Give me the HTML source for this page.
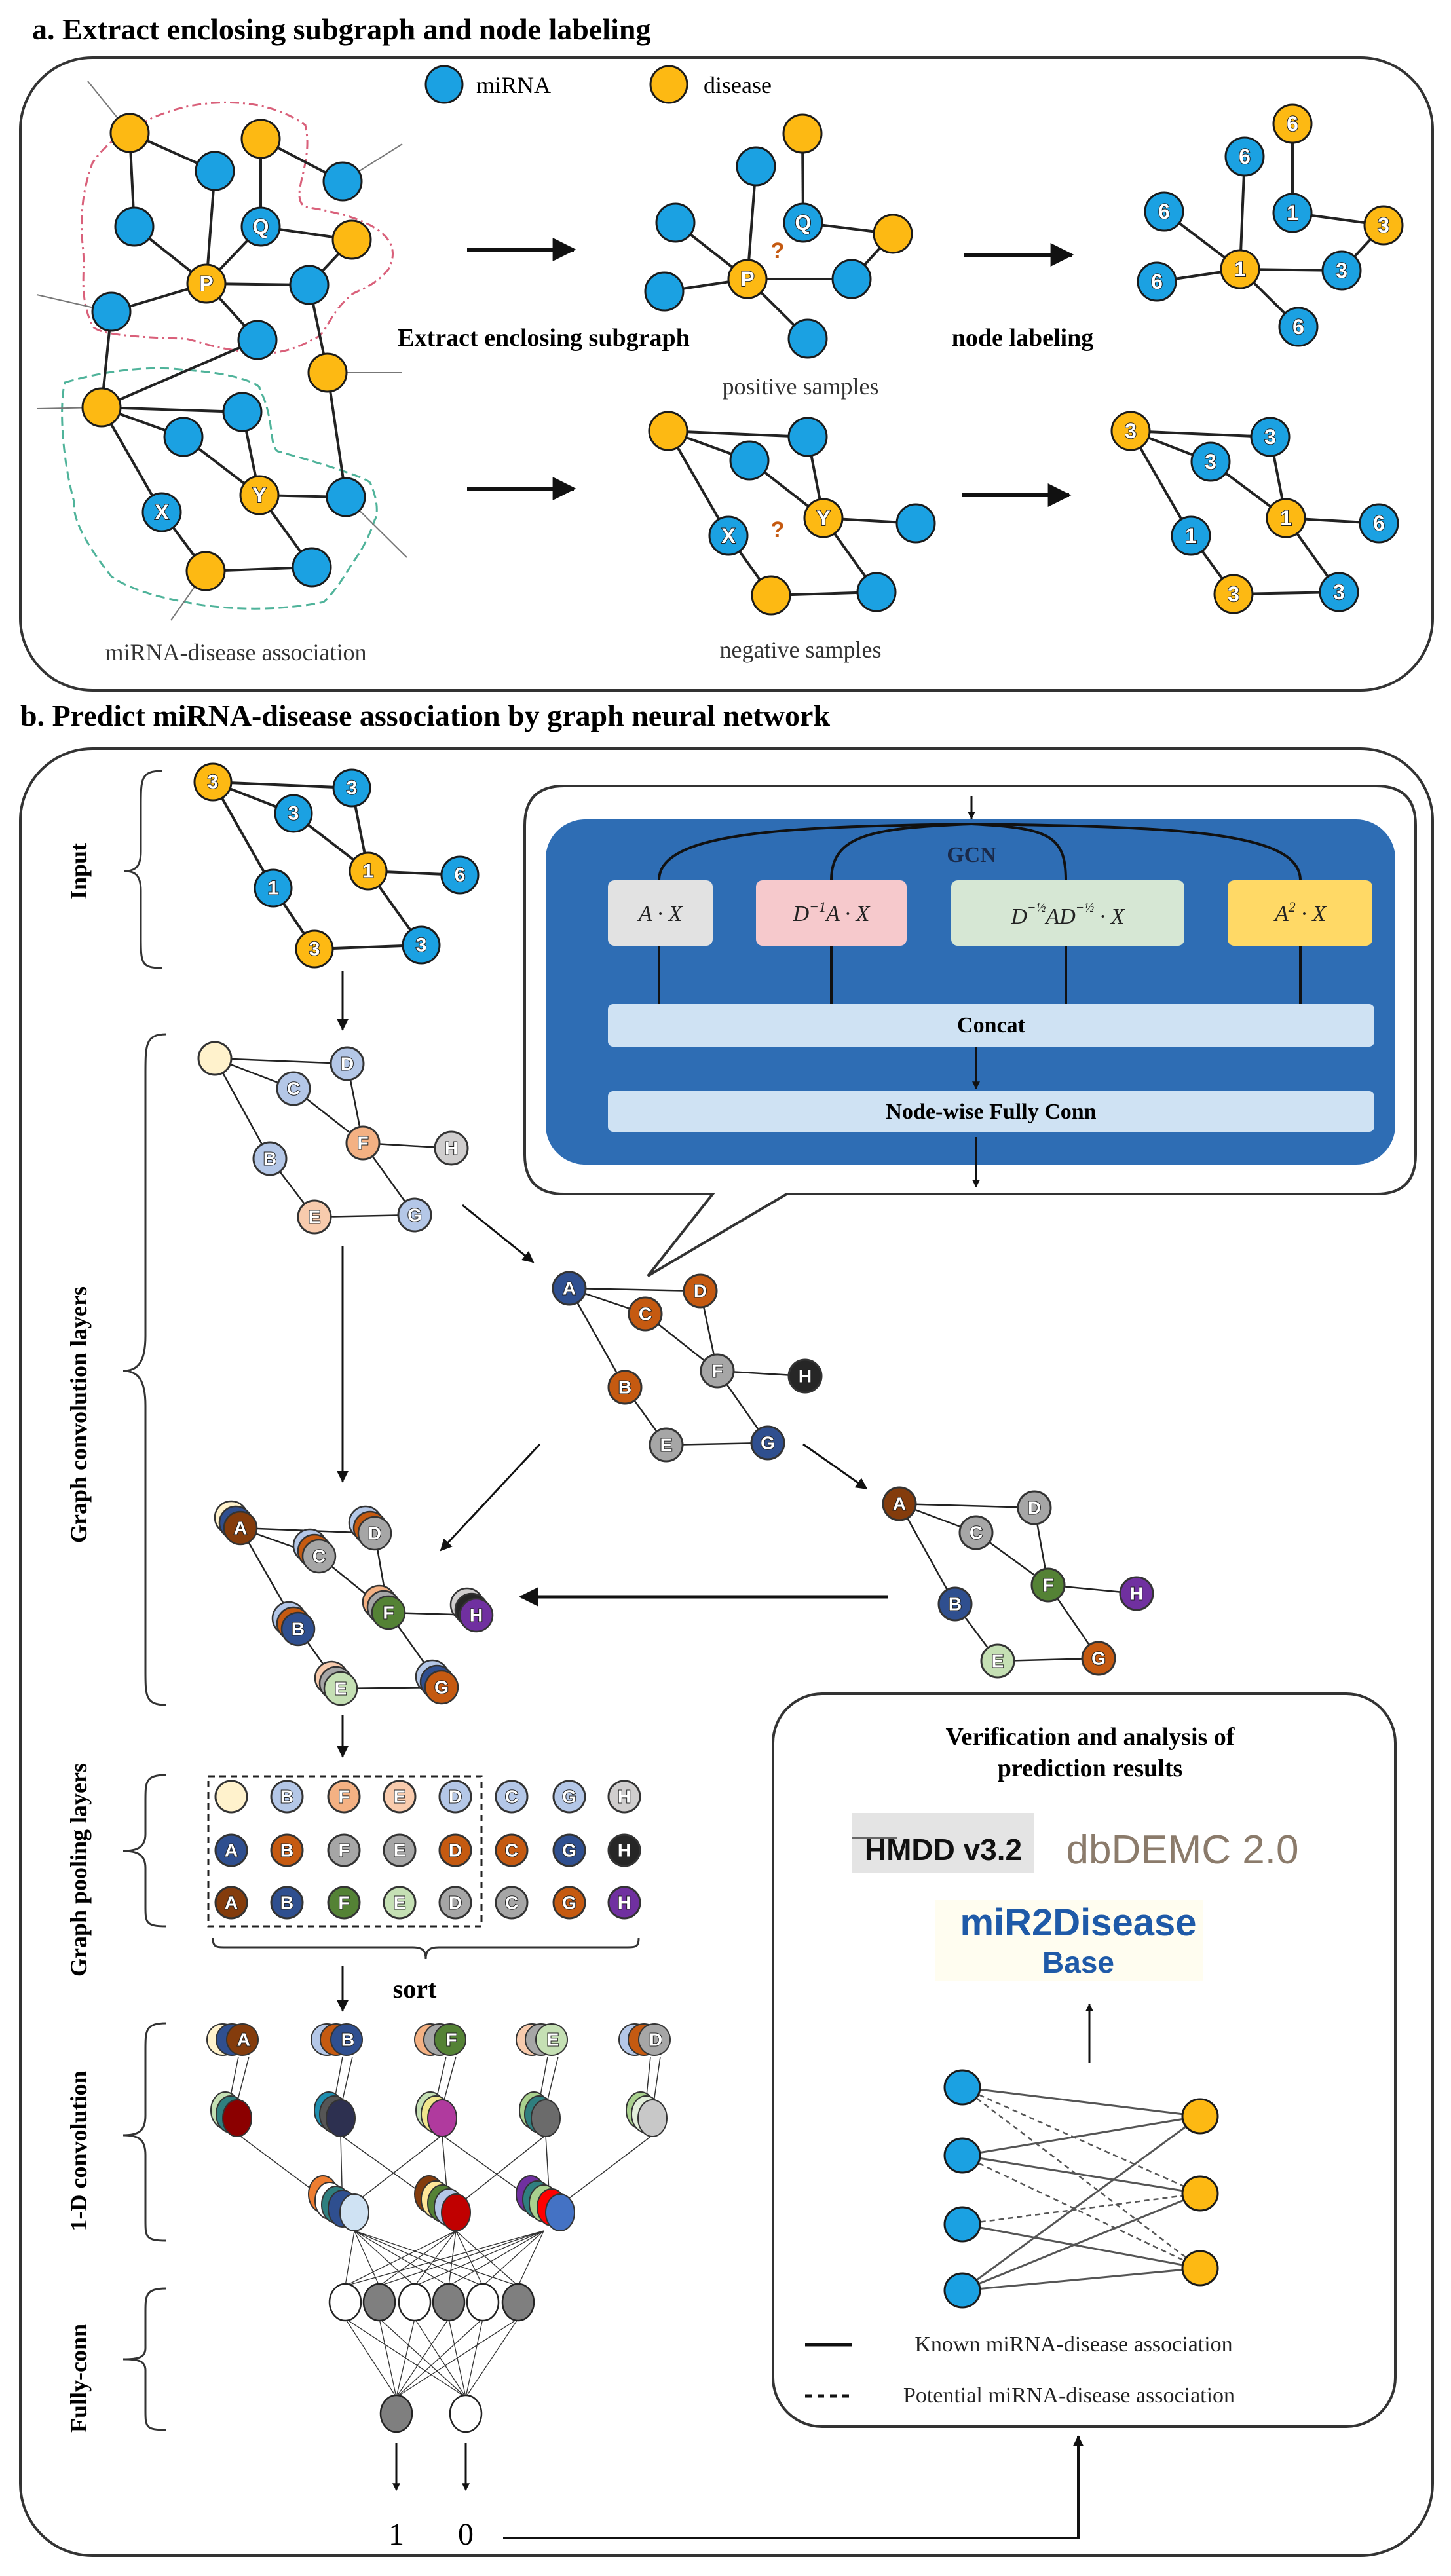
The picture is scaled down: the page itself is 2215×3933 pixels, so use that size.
<!DOCTYPE html>
<html><head><meta charset="utf-8"><style>
html,body{margin:0;padding:0;background:#fff;}
svg{display:block;}
.t{font-family:"Liberation Serif",serif;}
.nl{font-family:"Liberation Sans",sans-serif;font-weight:bold;fill:#fff;stroke:#222;stroke-width:2;paint-order:stroke;text-anchor:middle;dominant-baseline:central;}
</style></head><body>
<svg width="2215" height="3933" viewBox="0 0 2215 3933" xmlns="http://www.w3.org/2000/svg">
<defs>
<marker id="ah" viewBox="0 0 10 10" refX="9" refY="5" markerWidth="6" markerHeight="6" orient="auto-start-reverse"><path d="M0,0 L10,5 L0,10 z" fill="#111"/></marker>
<marker id="as" viewBox="0 0 10 10" refX="9" refY="5" markerWidth="4" markerHeight="4" orient="auto-start-reverse"><path d="M0,0 L10,5 L0,10 z" fill="#111"/></marker>
</defs>
<style>
.e{stroke:#222;stroke-width:4;fill:none}
.e2{stroke:#222;stroke-width:2.5;fill:none}
.b{fill:#1ba1e2;stroke:#1a1a1a;stroke-width:3}
.o{fill:#fdb913;stroke:#1a1a1a;stroke-width:3}
</style>

<!-- ============ SECTION A ============ -->
<text class="t" x="49" y="60" font-size="46" font-weight="bold">a. Extract enclosing subgraph and node labeling</text>
<rect x="31" y="88" width="2156" height="966" rx="110" fill="none" stroke="#333" stroke-width="4"/>
<circle cx="678" cy="129" r="28" class="b"/><text class="t" x="727" y="142" font-size="36">miRNA</text>
<circle cx="1021" cy="129" r="28" class="o"/><text class="t" x="1074" y="142" font-size="36">disease</text>

<!-- contours -->
<path d="M212,191 C280,150 396,140 466,191 C480,250 440,300 466,316 C560,330 620,360 593,411 C570,440 540,445 537,450 C500,480 500,510 480,517 C430,545 400,540 367,536 C320,530 300,520 283,517 C200,515 150,510 141,498 C120,450 130,420 127,383 C120,320 130,280 141,249 C160,220 190,200 212,191 Z" fill="none" stroke="#d9607a" stroke-width="3" stroke-dasharray="14,6,3,6"/>
<path d="M99,584 C180,560 250,560 283,565 C370,570 400,590 396,593 C420,640 410,680 424,689 C500,710 560,730 565,737 C580,770 575,790 572,794 C560,830 545,850 537,861 C520,890 505,910 494,919 C420,935 330,930 283,919 C230,910 190,895 170,880 C130,830 110,790 113,766 C95,700 90,620 99,584 Z" fill="none" stroke="#4fb39a" stroke-width="3" stroke-dasharray="14,7"/>

<!-- stray edges -->
<g stroke="#777" stroke-width="2">
<line x1="198" y1="203" x2="134" y2="124"/><line x1="523" y1="277" x2="614" y2="220"/>
<line x1="170" y1="476" x2="56" y2="450"/><line x1="500" y1="569" x2="614" y2="569"/>
<line x1="155" y1="622" x2="56" y2="624"/><line x1="528" y1="759" x2="621" y2="851"/>
<line x1="314" y1="872" x2="261" y2="947"/>
</g>
<g class="e">
<line x1="198" y1="203" x2="205" y2="346"/><line x1="198" y1="203" x2="328" y2="261"/>
<line x1="328" y1="261" x2="315" y2="433"/><line x1="398" y1="212" x2="398" y2="346"/>
<line x1="398" y1="212" x2="523" y2="277"/><line x1="398" y1="346" x2="315" y2="433"/>
<line x1="398" y1="346" x2="537" y2="366"/><line x1="205" y1="346" x2="315" y2="433"/>
<line x1="315" y1="433" x2="170" y2="476"/><line x1="315" y1="433" x2="472" y2="435"/>
<line x1="315" y1="433" x2="393" y2="519"/><line x1="537" y1="366" x2="472" y2="435"/>
<line x1="472" y1="435" x2="500" y2="569"/><line x1="170" y1="476" x2="155" y2="622"/>
<line x1="393" y1="519" x2="155" y2="622"/><line x1="155" y1="622" x2="370" y2="629"/>
<line x1="155" y1="622" x2="280" y2="667"/><line x1="155" y1="622" x2="247" y2="782"/>
<line x1="500" y1="569" x2="528" y2="759"/><line x1="280" y1="667" x2="396" y2="756"/>
<line x1="370" y1="629" x2="396" y2="756"/><line x1="396" y1="756" x2="528" y2="759"/>
<line x1="396" y1="756" x2="476" y2="866"/><line x1="247" y1="782" x2="314" y2="872"/>
<line x1="314" y1="872" x2="476" y2="866"/>
</g>
<g>
<circle cx="198" cy="203" r="29" class="o"/><circle cx="398" cy="212" r="29" class="o"/>
<circle cx="328" cy="261" r="29" class="b"/><circle cx="523" cy="277" r="29" class="b"/>
<circle cx="205" cy="346" r="29" class="b"/><circle cx="398" cy="346" r="29" class="b"/>
<circle cx="537" cy="366" r="29" class="o"/><circle cx="315" cy="433" r="29" class="o"/>
<circle cx="472" cy="435" r="29" class="b"/><circle cx="170" cy="476" r="29" class="b"/>
<circle cx="393" cy="519" r="29" class="b"/><circle cx="500" cy="569" r="29" class="o"/>
<circle cx="155" cy="622" r="29" class="o"/><circle cx="370" cy="629" r="29" class="b"/>
<circle cx="280" cy="667" r="29" class="b"/><circle cx="396" cy="756" r="29" class="o"/>
<circle cx="528" cy="759" r="29" class="b"/><circle cx="247" cy="782" r="29" class="b"/>
<circle cx="314" cy="872" r="29" class="o"/><circle cx="476" cy="866" r="29" class="b"/>
</g>
<text class="nl" x="398" y="346" font-size="32">Q</text><text class="nl" x="315" y="433" font-size="32">P</text>
<text class="nl" x="396" y="756" font-size="32">Y</text><text class="nl" x="247" y="782" font-size="32">X</text>
<text class="t" x="360" y="1008" font-size="36" text-anchor="middle" fill="#333">miRNA-disease association</text>

<!-- arrows -->
<g stroke="#111" stroke-width="6" marker-end="url(#ah)">
<line x1="713" y1="381" x2="876" y2="381"/><line x1="713" y1="746" x2="876" y2="746"/>
<line x1="1472" y1="389" x2="1636" y2="389"/><line x1="1469" y1="756" x2="1632" y2="756"/>
</g>
<text class="t" x="830" y="528" font-size="38" font-weight="bold" text-anchor="middle">Extract enclosing subgraph</text>
<text class="t" x="1561" y="528" font-size="38" font-weight="bold" text-anchor="middle">node labeling</text>
<text class="t" x="1222" y="602" font-size="36" text-anchor="middle" fill="#333">positive samples</text>
<text class="t" x="1222" y="1004" font-size="36" text-anchor="middle" fill="#333">negative samples</text>

<!-- positive sample -->
<g class="e">
<line x1="1225" y1="204" x2="1226" y2="340"/><line x1="1154" y1="254" x2="1141" y2="426"/>
<line x1="1031" y1="340" x2="1141" y2="426"/><line x1="1226" y1="340" x2="1363" y2="357"/>
<line x1="1363" y1="357" x2="1300" y2="426"/><line x1="1141" y1="426" x2="1300" y2="426"/>
<line x1="1141" y1="426" x2="1014" y2="445"/><line x1="1141" y1="426" x2="1233" y2="517"/>
</g>
<circle cx="1225" cy="204" r="29" class="o"/><circle cx="1154" cy="254" r="29" class="b"/>
<circle cx="1031" cy="340" r="29" class="b"/><circle cx="1226" cy="340" r="29" class="b"/>
<circle cx="1363" cy="357" r="29" class="o"/><circle cx="1141" cy="426" r="29" class="o"/>
<circle cx="1300" cy="426" r="29" class="b"/><circle cx="1014" cy="445" r="29" class="b"/>
<circle cx="1233" cy="517" r="29" class="b"/>
<text class="nl" x="1226" y="340" font-size="32">Q</text><text class="nl" x="1141" y="426" font-size="32">P</text>
<text x="1187" y="394" font-size="34" font-weight="bold" fill="#c55a11" font-family="Liberation Sans" text-anchor="middle">?</text>

<!-- labeled positive -->
<g class="e">
<line x1="1973" y1="189" x2="1973" y2="325"/><line x1="1900" y1="239" x2="1893" y2="411"/>
<line x1="1777" y1="323" x2="1893" y2="411"/><line x1="1973" y1="325" x2="2112" y2="344"/>
<line x1="2112" y1="344" x2="2048" y2="413"/><line x1="1893" y1="411" x2="2048" y2="413"/>
<line x1="1893" y1="411" x2="1766" y2="430"/><line x1="1893" y1="411" x2="1982" y2="499"/>
</g>
<circle cx="1973" cy="189" r="29" class="o"/><circle cx="1900" cy="239" r="29" class="b"/>
<circle cx="1777" cy="323" r="29" class="b"/><circle cx="1973" cy="325" r="29" class="b"/>
<circle cx="2112" cy="344" r="29" class="o"/><circle cx="1893" cy="411" r="29" class="o"/>
<circle cx="2048" cy="413" r="29" class="b"/><circle cx="1766" cy="430" r="29" class="b"/>
<circle cx="1982" cy="499" r="29" class="b"/>
<g font-size="32">
<text class="nl" x="1973" y="189">6</text><text class="nl" x="1900" y="239">6</text><text class="nl" x="1777" y="323">6</text>
<text class="nl" x="1973" y="325">1</text><text class="nl" x="2112" y="344">3</text><text class="nl" x="1893" y="411">1</text>
<text class="nl" x="2048" y="413">3</text><text class="nl" x="1766" y="430">6</text><text class="nl" x="1982" y="499">6</text>
</g>

<!-- negative sample -->
<g class="e">
<line x1="1020" y1="658" x2="1233" y2="667"/><line x1="1020" y1="658" x2="1144" y2="703"/>
<line x1="1020" y1="658" x2="1112" y2="818"/><line x1="1233" y1="667" x2="1257" y2="791"/>
<line x1="1144" y1="703" x2="1257" y2="791"/><line x1="1257" y1="791" x2="1398" y2="799"/>
<line x1="1257" y1="791" x2="1338" y2="904"/><line x1="1112" y1="818" x2="1177" y2="909"/>
<line x1="1177" y1="909" x2="1338" y2="904"/>
</g>
<circle cx="1020" cy="658" r="29" class="o"/><circle cx="1233" cy="667" r="29" class="b"/>
<circle cx="1144" cy="703" r="29" class="b"/><circle cx="1257" cy="791" r="29" class="o"/>
<circle cx="1398" cy="799" r="29" class="b"/><circle cx="1112" cy="818" r="29" class="b"/>
<circle cx="1177" cy="909" r="29" class="o"/><circle cx="1338" cy="904" r="29" class="b"/>
<text class="nl" x="1257" y="791" font-size="32">Y</text><text class="nl" x="1112" y="818" font-size="32">X</text>
<text x="1187" y="820" font-size="34" font-weight="bold" fill="#c55a11" font-family="Liberation Sans" text-anchor="middle">?</text>

<!-- labeled negative -->
<g class="e">
<line x1="1726" y1="658" x2="1939" y2="667"/><line x1="1726" y1="658" x2="1848" y2="705"/>
<line x1="1726" y1="658" x2="1818" y2="818"/><line x1="1939" y1="667" x2="1963" y2="791"/>
<line x1="1848" y1="705" x2="1963" y2="791"/><line x1="1963" y1="791" x2="2105" y2="799"/>
<line x1="1963" y1="791" x2="2044" y2="904"/><line x1="1818" y1="818" x2="1883" y2="907"/>
<line x1="1883" y1="907" x2="2044" y2="904"/>
</g>
<circle cx="1726" cy="658" r="29" class="o"/><circle cx="1939" cy="667" r="29" class="b"/>
<circle cx="1848" cy="705" r="29" class="b"/><circle cx="1963" cy="791" r="29" class="o"/>
<circle cx="2105" cy="799" r="29" class="b"/><circle cx="1818" cy="818" r="29" class="b"/>
<circle cx="1883" cy="907" r="29" class="o"/><circle cx="2044" cy="904" r="29" class="b"/>
<g font-size="32">
<text class="nl" x="1726" y="658">3</text><text class="nl" x="1939" y="667">3</text><text class="nl" x="1848" y="705">3</text>
<text class="nl" x="1963" y="791">1</text><text class="nl" x="2105" y="799">6</text><text class="nl" x="1818" y="818">1</text>
<text class="nl" x="1883" y="907">3</text><text class="nl" x="2044" y="904">3</text>
</g>

<!-- ============ SECTION B ============ -->
<text class="t" x="31" y="1108" font-size="46" font-weight="bold">b. Predict miRNA-disease association by graph neural network</text>
<rect x="31" y="1143" width="2156" height="2759" rx="110" fill="none" stroke="#333" stroke-width="4"/>

<!-- braces and side labels -->
<g fill="none" stroke="#333" stroke-width="3">
<path d="M247,1177 C215,1177 215,1190 215,1230 L215,1300 C215,1325 205,1330 190,1330 C205,1330 215,1335 215,1360 L215,1430 C215,1470 215,1478 247,1478"/>
<path d="M254,1579 C222,1579 222,1595 222,1640 L222,2040 C222,2080 210,2093 188,2093 C210,2093 222,2106 222,2146 L222,2550 C222,2590 222,2603 254,2603"/>
<path d="M254,2710 C222,2710 222,2720 222,2750 L222,2800 C222,2820 210,2826 188,2826 C210,2826 222,2832 222,2852 L222,2910 C222,2935 222,2941 254,2941"/>
<path d="M254,3089 C222,3089 222,3100 222,3130 L222,3230 C222,3255 210,3260 188,3260 C210,3260 222,3265 222,3290 L222,3390 C222,3415 222,3421 254,3421"/>
<path d="M254,3494 C222,3494 222,3505 222,3530 L222,3585 C222,3600 210,3602 188,3602 C210,3602 222,3604 222,3619 L222,3680 C222,3705 222,3710 254,3710"/>
<path d="M325,2959 C325,2973 330,2973 345,2973 L630,2973 C645,2973 650,2978 650,2991 C650,2978 655,2973 670,2973 L955,2973 C970,2973 975,2973 975,2959"/>
</g>
<g class="t" font-size="36" font-weight="bold" text-anchor="middle">
<text transform="translate(132,1330) rotate(-90)">Input</text>
<text transform="translate(132,2160) rotate(-90)">Graph convolution layers</text>
<text transform="translate(132,2855) rotate(-90)">Graph pooling layers</text>
<text transform="translate(132,3284) rotate(-90)">1-D convolution</text>
<text transform="translate(132,3631) rotate(-90)">Fully-conn</text>
</g>

<!-- Input graph -->
<g class="e">
<line x1="325" y1="1194" x2="537" y2="1203"/><line x1="325" y1="1194" x2="448" y2="1242"/>
<line x1="325" y1="1194" x2="417" y2="1356"/><line x1="537" y1="1203" x2="562" y2="1330"/>
<line x1="448" y1="1242" x2="562" y2="1330"/><line x1="562" y1="1330" x2="702" y2="1336"/>
<line x1="562" y1="1330" x2="643" y2="1443"/><line x1="417" y1="1356" x2="480" y2="1449"/>
<line x1="480" y1="1449" x2="643" y2="1443"/>
</g>
<circle cx="325" cy="1194" r="28" class="o"/><circle cx="537" cy="1203" r="28" class="b"/>
<circle cx="448" cy="1242" r="28" class="b"/><circle cx="562" cy="1330" r="28" class="o"/>
<circle cx="702" cy="1336" r="28" class="b"/><circle cx="417" cy="1356" r="28" class="b"/>
<circle cx="480" cy="1449" r="28" class="o"/><circle cx="643" cy="1443" r="28" class="b"/>
<g font-size="30">
<text class="nl" x="325" y="1194">3</text><text class="nl" x="537" y="1203">3</text><text class="nl" x="448" y="1242">3</text>
<text class="nl" x="562" y="1330">1</text><text class="nl" x="702" y="1336">6</text><text class="nl" x="417" y="1356">1</text>
<text class="nl" x="480" y="1449">3</text><text class="nl" x="643" y="1443">3</text>
</g>

<!-- GCN callout -->
<path d="M861,1200 L2101,1200 Q2161,1200 2161,1260 L2161,1763 Q2161,1823 2101,1823 L1201,1823 L989,1948 L1088,1823 L861,1823 Q801,1823 801,1763 L801,1260 Q801,1200 861,1200 Z" fill="#fff" stroke="#333" stroke-width="4"/>
<rect x="833" y="1251" width="1297" height="527" rx="60" fill="#2e6db4"/>
<line x1="1483" y1="1215" x2="1483" y2="1250" stroke="#111" stroke-width="3" marker-end="url(#as)"/>
<g fill="none" stroke="#111" stroke-width="4">
<path d="M1483,1258 C1200,1262 1006,1270 1006,1344"/>
<path d="M1483,1258 C1330,1264 1269,1275 1269,1344"/>
<path d="M1483,1258 C1600,1264 1627,1275 1627,1344"/>
<path d="M1483,1258 C1800,1262 1985,1270 1985,1344"/>
<line x1="1006" y1="1444" x2="1006" y2="1533"/><line x1="1269" y1="1444" x2="1269" y2="1533"/>
<line x1="1627" y1="1444" x2="1627" y2="1533"/><line x1="1985" y1="1444" x2="1985" y2="1533"/>
</g>
<text class="t" x="1483" y="1316" font-size="34" font-weight="bold" text-anchor="middle" fill="#1a2a4a">GCN</text>
<rect x="928" y="1344" width="160" height="100" rx="10" fill="#e2e2e2"/>
<rect x="1154" y="1344" width="230" height="100" rx="10" fill="#f6c9cc"/>
<rect x="1452" y="1344" width="356" height="100" rx="10" fill="#d6e7d4"/>
<rect x="1874" y="1344" width="221" height="100" rx="10" fill="#ffd966"/>
<g class="t" font-size="34" font-style="italic" text-anchor="middle" fill="#222">
<text x="1008" y="1406">A · X</text>
<text x="1269" y="1406">D<tspan font-size="22" dy="-14">−1</tspan><tspan dy="14">A · X</tspan></text>
<text x="1630" y="1410">D<tspan font-size="20" dy="-18">−½</tspan><tspan dy="18">AD</tspan><tspan font-size="20" dy="-18">−½</tspan><tspan dy="18"> · X</tspan></text>
<text x="1985" y="1406">A<tspan font-size="22" dy="-14">2</tspan><tspan dy="14"> · X</tspan></text>
</g>
<rect x="928" y="1533" width="1170" height="65" rx="8" fill="#cfe2f3"/>
<rect x="928" y="1666" width="1170" height="62" rx="8" fill="#cfe2f3"/>
<text class="t" x="1513" y="1576" font-size="34" font-weight="bold" text-anchor="middle">Concat</text>
<text class="t" x="1513" y="1708" font-size="34" font-weight="bold" text-anchor="middle">Node-wise Fully Conn</text>
<line x1="1490" y1="1598" x2="1490" y2="1662" stroke="#111" stroke-width="3" marker-end="url(#as)"/>
<line x1="1490" y1="1736" x2="1490" y2="1812" stroke="#111" stroke-width="3" marker-end="url(#as)"/>

<!-- flow arrows -->
<g stroke="#111" stroke-width="3" marker-end="url(#ah)">
<line x1="523" y1="1482" x2="523" y2="1572"/>
<line x1="706" y1="1840" x2="814" y2="1927"/>
<line x1="523" y1="1902" x2="523" y2="2262"/>
<line x1="824" y1="2205" x2="673" y2="2367"/>
<line x1="1226" y1="2205" x2="1323" y2="2273"/>
<line x1="523" y1="2619" x2="523" y2="2682"/>
<line x1="523" y1="3002" x2="523" y2="3070"/>
</g>
<line x1="1356" y1="2438" x2="795" y2="2438" stroke="#111" stroke-width="5" marker-end="url(#ah)"/>

<!-- graph conv graph 1 -->
<g class="e2">
<line x1="328" y1="1616" x2="530" y2="1624"/><line x1="328" y1="1616" x2="448" y2="1662"/>
<line x1="328" y1="1616" x2="412" y2="1769"/><line x1="448" y1="1662" x2="554" y2="1745"/>
<line x1="530" y1="1624" x2="554" y2="1745"/><line x1="554" y1="1745" x2="689" y2="1753"/>
<line x1="554" y1="1745" x2="633" y2="1855"/><line x1="412" y1="1769" x2="480" y2="1858"/>
<line x1="480" y1="1858" x2="633" y2="1855"/>
</g>
<g stroke="#333" stroke-width="3" font-size="28">
<circle cx="328" cy="1616" r="25" fill="#fff2cc"/>
<circle cx="530" cy="1624" r="25" fill="#b4c7e7"/><text class="nl" x="530" y="1624">D</text>
<circle cx="448" cy="1662" r="25" fill="#b4c7e7"/><text class="nl" x="448" y="1662">C</text>
<circle cx="554" cy="1745" r="25" fill="#f4b183"/><text class="nl" x="554" y="1745">F</text>
<circle cx="689" cy="1753" r="25" fill="#d0cece"/><text class="nl" x="689" y="1753">H</text>
<circle cx="412" cy="1769" r="25" fill="#b4c7e7"/><text class="nl" x="412" y="1769">B</text>
<circle cx="480" cy="1858" r="25" fill="#f8cbad"/><text class="nl" x="480" y="1858">E</text>
<circle cx="633" cy="1855" r="25" fill="#b4c7e7"/><text class="nl" x="633" y="1855">G</text>
</g>

<!-- graph 2 -->
<g class="e2">
<line x1="869" y1="1967" x2="1069" y2="1971"/><line x1="869" y1="1967" x2="985" y2="2006"/>
<line x1="869" y1="1967" x2="954" y2="2118"/><line x1="985" y1="2006" x2="1095" y2="2093"/>
<line x1="1069" y1="1971" x2="1095" y2="2093"/><line x1="1095" y1="2093" x2="1229" y2="2101"/>
<line x1="1095" y1="2093" x2="1172" y2="2203"/><line x1="954" y1="2118" x2="1017" y2="2206"/>
<line x1="1017" y1="2206" x2="1172" y2="2203"/>
</g>
<g stroke="#333" stroke-width="3" font-size="28">
<circle cx="869" cy="1967" r="25" fill="#2f4f8f"/><text class="nl" x="869" y="1967">A</text>
<circle cx="1069" cy="1971" r="25" fill="#c55a11"/><text class="nl" x="1069" y="1971">D</text>
<circle cx="985" cy="2006" r="25" fill="#c55a11"/><text class="nl" x="985" y="2006">C</text>
<circle cx="1095" cy="2093" r="25" fill="#a6a6a6"/><text class="nl" x="1095" y="2093">F</text>
<circle cx="1229" cy="2101" r="25" fill="#262626"/><text class="nl" x="1229" y="2101">H</text>
<circle cx="954" cy="2118" r="25" fill="#c55a11"/><text class="nl" x="954" y="2118">B</text>
<circle cx="1017" cy="2206" r="25" fill="#a6a6a6"/><text class="nl" x="1017" y="2206">E</text>
<circle cx="1172" cy="2203" r="25" fill="#2f4f8f"/><text class="nl" x="1172" y="2203">G</text>
</g>

<!-- graph 3 -->
<g class="e2">
<line x1="1373" y1="2296" x2="1579" y2="2302"/><line x1="1373" y1="2296" x2="1490" y2="2340"/>
<line x1="1373" y1="2296" x2="1458" y2="2449"/><line x1="1490" y1="2340" x2="1600" y2="2420"/>
<line x1="1579" y1="2302" x2="1600" y2="2420"/><line x1="1600" y1="2420" x2="1735" y2="2433"/>
<line x1="1600" y1="2420" x2="1677" y2="2532"/><line x1="1458" y1="2449" x2="1523" y2="2536"/>
<line x1="1523" y1="2536" x2="1677" y2="2532"/>
</g>
<g stroke="#333" stroke-width="3" font-size="28">
<circle cx="1373" cy="2296" r="25" fill="#843c0c"/><text class="nl" x="1373" y="2296">A</text>
<circle cx="1579" cy="2302" r="25" fill="#a6a6a6"/><text class="nl" x="1579" y="2302">D</text>
<circle cx="1490" cy="2340" r="25" fill="#a6a6a6"/><text class="nl" x="1490" y="2340">C</text>
<circle cx="1600" cy="2420" r="25" fill="#548235"/><text class="nl" x="1600" y="2420">F</text>
<circle cx="1735" cy="2433" r="25" fill="#7030a0"/><text class="nl" x="1735" y="2433">H</text>
<circle cx="1458" cy="2449" r="25" fill="#2f4f8f"/><text class="nl" x="1458" y="2449">B</text>
<circle cx="1523" cy="2536" r="25" fill="#c5e0b4"/><text class="nl" x="1523" y="2536">E</text>
<circle cx="1677" cy="2532" r="25" fill="#c55a11"/><text class="nl" x="1677" y="2532">G</text>
</g>

<!-- graph 4 stacked -->
<g class="e2">
<line x1="367" y1="2333" x2="572" y2="2341"/><line x1="367" y1="2333" x2="487" y2="2376"/>
<line x1="367" y1="2333" x2="455" y2="2487"/><line x1="487" y1="2376" x2="593" y2="2462"/>
<line x1="572" y1="2341" x2="593" y2="2462"/><line x1="593" y1="2462" x2="727" y2="2466"/>
<line x1="593" y1="2462" x2="674" y2="2576"/><line x1="455" y1="2487" x2="520" y2="2578"/>
<line x1="520" y1="2578" x2="674" y2="2576"/>
</g>
<g stroke="#333" stroke-width="2.5" font-size="28">
<circle cx="353" cy="2317" r="25" fill="#fff2cc"/><circle cx="360" cy="2325" r="25" fill="#2f4f8f"/><circle cx="367" cy="2333" r="25" fill="#843c0c"/><text class="nl" x="367" y="2333">A</text>
<circle cx="558" cy="2325" r="25" fill="#b4c7e7"/><circle cx="565" cy="2333" r="25" fill="#c55a11"/><circle cx="572" cy="2341" r="25" fill="#a6a6a6"/><text class="nl" x="572" y="2341">D</text>
<circle cx="473" cy="2360" r="25" fill="#b4c7e7"/><circle cx="480" cy="2368" r="25" fill="#c55a11"/><circle cx="487" cy="2376" r="25" fill="#a6a6a6"/><text class="nl" x="487" y="2376">C</text>
<circle cx="579" cy="2446" r="25" fill="#f4b183"/><circle cx="586" cy="2454" r="25" fill="#a6a6a6"/><circle cx="593" cy="2462" r="25" fill="#548235"/><text class="nl" x="593" y="2462">F</text>
<circle cx="713" cy="2450" r="25" fill="#d0cece"/><circle cx="720" cy="2458" r="25" fill="#262626"/><circle cx="727" cy="2466" r="25" fill="#7030a0"/><text class="nl" x="727" y="2466">H</text>
<circle cx="441" cy="2471" r="25" fill="#b4c7e7"/><circle cx="448" cy="2479" r="25" fill="#c55a11"/><circle cx="455" cy="2487" r="25" fill="#2f4f8f"/><text class="nl" x="455" y="2487">B</text>
<circle cx="506" cy="2562" r="25" fill="#f8cbad"/><circle cx="513" cy="2570" r="25" fill="#a6a6a6"/><circle cx="520" cy="2578" r="25" fill="#c5e0b4"/><text class="nl" x="520" y="2578">E</text>
<circle cx="660" cy="2560" r="25" fill="#b4c7e7"/><circle cx="667" cy="2568" r="25" fill="#2f4f8f"/><circle cx="674" cy="2576" r="25" fill="#c55a11"/><text class="nl" x="674" y="2576">G</text>
</g>

<!-- pooling rows -->
<rect x="318" y="2712" width="417" height="229" fill="none" stroke="#222" stroke-width="3" stroke-dasharray="10,7"/>
<g stroke="#333" stroke-width="3" font-size="28">
<circle cx="353" cy="2743" r="24" fill="#fff2cc"/>
<circle cx="438" cy="2743" r="24" fill="#b4c7e7"/><text class="nl" x="438" y="2743">B</text>
<circle cx="525" cy="2743" r="24" fill="#f4b183"/><text class="nl" x="525" y="2743">F</text>
<circle cx="610" cy="2743" r="24" fill="#f8cbad"/><text class="nl" x="610" y="2743">E</text>
<circle cx="695" cy="2743" r="24" fill="#b4c7e7"/><text class="nl" x="695" y="2743">D</text>
<circle cx="781" cy="2743" r="24" fill="#b4c7e7"/><text class="nl" x="781" y="2743">C</text>
<circle cx="869" cy="2743" r="24" fill="#b4c7e7"/><text class="nl" x="869" y="2743">G</text>
<circle cx="953" cy="2743" r="24" fill="#d0cece"/><text class="nl" x="953" y="2743">H</text>

<circle cx="353" cy="2825" r="24" fill="#2f4f8f"/><text class="nl" x="353" y="2825">A</text>
<circle cx="438" cy="2825" r="24" fill="#c55a11"/><text class="nl" x="438" y="2825">B</text>
<circle cx="525" cy="2825" r="24" fill="#a6a6a6"/><text class="nl" x="525" y="2825">F</text>
<circle cx="610" cy="2825" r="24" fill="#a6a6a6"/><text class="nl" x="610" y="2825">E</text>
<circle cx="695" cy="2825" r="24" fill="#c55a11"/><text class="nl" x="695" y="2825">D</text>
<circle cx="781" cy="2825" r="24" fill="#c55a11"/><text class="nl" x="781" y="2825">C</text>
<circle cx="869" cy="2825" r="24" fill="#2f4f8f"/><text class="nl" x="869" y="2825">G</text>
<circle cx="953" cy="2825" r="24" fill="#262626"/><text class="nl" x="953" y="2825">H</text>

<circle cx="353" cy="2905" r="24" fill="#843c0c"/><text class="nl" x="353" y="2905">A</text>
<circle cx="438" cy="2905" r="24" fill="#2f4f8f"/><text class="nl" x="438" y="2905">B</text>
<circle cx="525" cy="2905" r="24" fill="#548235"/><text class="nl" x="525" y="2905">F</text>
<circle cx="610" cy="2905" r="24" fill="#c5e0b4"/><text class="nl" x="610" y="2905">E</text>
<circle cx="695" cy="2905" r="24" fill="#a6a6a6"/><text class="nl" x="695" y="2905">D</text>
<circle cx="781" cy="2905" r="24" fill="#a6a6a6"/><text class="nl" x="781" y="2905">C</text>
<circle cx="869" cy="2905" r="24" fill="#c55a11"/><text class="nl" x="869" y="2905">G</text>
<circle cx="953" cy="2905" r="24" fill="#7030a0"/><text class="nl" x="953" y="2905">H</text>
</g>
<text class="t" x="633" y="3050" font-size="40" font-weight="bold" text-anchor="middle">sort</text>

<!-- 1-D conv -->
<g stroke="#333" stroke-width="1.5">
<line x1="364" y1="3140" x2="350" y2="3210"/><line x1="380" y1="3140" x2="362" y2="3210"/>
<line x1="523" y1="3140" x2="510" y2="3210"/><line x1="538" y1="3140" x2="522" y2="3210"/>
<line x1="681" y1="3140" x2="665" y2="3210"/><line x1="696" y1="3140" x2="677" y2="3210"/>
<line x1="836" y1="3140" x2="823" y2="3210"/><line x1="852" y1="3140" x2="835" y2="3210"/>
<line x1="993" y1="3140" x2="986" y2="3210"/><line x1="1008" y1="3140" x2="998" y2="3210"/>
<line x1="365" y1="3260" x2="523" y2="3378"/><line x1="520" y1="3260" x2="523" y2="3378"/><line x1="520" y1="3260" x2="685" y2="3378"/>
<line x1="675" y1="3260" x2="523" y2="3378"/><line x1="675" y1="3260" x2="685" y2="3378"/><line x1="675" y1="3260" x2="840" y2="3378"/>
<line x1="833" y1="3260" x2="685" y2="3378"/><line x1="833" y1="3260" x2="840" y2="3378"/><line x1="996" y1="3260" x2="840" y2="3378"/>
</g>
<g stroke="#333" stroke-width="2">
<!-- top stacks -->
<circle cx="340" cy="3114" r="24" fill="#fff2cc"/><circle cx="354" cy="3114" r="24" fill="#2f4f8f"/><circle cx="370" cy="3114" r="24" fill="#843c0c"/>
<circle cx="499" cy="3114" r="24" fill="#b4c7e7"/><circle cx="513" cy="3114" r="24" fill="#c55a11"/><circle cx="529" cy="3114" r="24" fill="#2f4f8f"/>
<circle cx="657" cy="3114" r="24" fill="#f4b183"/><circle cx="671" cy="3114" r="24" fill="#a6a6a6"/><circle cx="687" cy="3114" r="24" fill="#548235"/>
<circle cx="812" cy="3114" r="24" fill="#f8cbad"/><circle cx="826" cy="3114" r="24" fill="#a6a6a6"/><circle cx="842" cy="3114" r="24" fill="#c5e0b4"/>
<circle cx="969" cy="3114" r="24" fill="#b4c7e7"/><circle cx="983" cy="3114" r="24" fill="#c55a11"/><circle cx="999" cy="3114" r="24" fill="#a6a6a6"/>
</g>
<g font-size="28">
<text class="nl" x="372" y="3114">A</text><text class="nl" x="531" y="3114">B</text><text class="nl" x="689" y="3114">F</text>
<text class="nl" x="844" y="3114">E</text><text class="nl" x="1001" y="3114">D</text>
</g>
<g stroke="#333" stroke-width="2">
<ellipse cx="344" cy="3222" rx="22" ry="28" fill="#c5e0b4"/><ellipse cx="352" cy="3228" rx="22" ry="28" fill="#2f7f7f"/><ellipse cx="362" cy="3234" rx="22" ry="28" fill="#8b0000"/>
<ellipse cx="502" cy="3222" rx="22" ry="28" fill="#1f8fb0"/><ellipse cx="510" cy="3228" rx="22" ry="28" fill="#555"/><ellipse cx="520" cy="3234" rx="22" ry="28" fill="#2d3050"/>
<ellipse cx="657" cy="3222" rx="22" ry="28" fill="#c5e0b4"/><ellipse cx="665" cy="3228" rx="22" ry="28" fill="#f0e68c"/><ellipse cx="675" cy="3234" rx="22" ry="28" fill="#b03a9e"/>
<ellipse cx="815" cy="3222" rx="22" ry="28" fill="#a9d18e"/><ellipse cx="823" cy="3228" rx="22" ry="28" fill="#2f7f7f"/><ellipse cx="833" cy="3234" rx="22" ry="28" fill="#6b6b6b"/>
<ellipse cx="978" cy="3222" rx="22" ry="28" fill="#a9d18e"/><ellipse cx="986" cy="3228" rx="22" ry="28" fill="#e2efda"/><ellipse cx="996" cy="3234" rx="22" ry="28" fill="#c8c8c8"/>

<ellipse cx="493" cy="3350" rx="22" ry="28" fill="#ed7d31"/><ellipse cx="503" cy="3360" rx="22" ry="28" fill="#fff"/><ellipse cx="513" cy="3366" rx="22" ry="28" fill="#2f7f7f"/><ellipse cx="523" cy="3372" rx="22" ry="28" fill="#2f4f8f"/><ellipse cx="541" cy="3378" rx="22" ry="28" fill="#cfe2f3"/>
<ellipse cx="655" cy="3350" rx="22" ry="28" fill="#843c0c"/><ellipse cx="665" cy="3358" rx="22" ry="28" fill="#ffe699"/><ellipse cx="675" cy="3364" rx="22" ry="28" fill="#548235"/><ellipse cx="685" cy="3370" rx="22" ry="28" fill="#b4c7e7"/><ellipse cx="696" cy="3378" rx="22" ry="28" fill="#c00000"/>
<ellipse cx="810" cy="3350" rx="22" ry="28" fill="#7030a0"/><ellipse cx="820" cy="3358" rx="22" ry="28" fill="#2f7f7f"/><ellipse cx="830" cy="3364" rx="22" ry="28" fill="#a9d18e"/><ellipse cx="842" cy="3370" rx="22" ry="28" fill="#ff0000"/><ellipse cx="855" cy="3378" rx="22" ry="28" fill="#4472c4"/>
</g>
<!-- FC -->
<g stroke="#333" stroke-width="1.3">
<path d="M541,3406 L527,3490 M541,3406 L579,3490 M541,3406 L633,3490 M541,3406 L685,3490 M541,3406 L737,3490 M541,3406 L791,3490
M696,3406 L527,3490 M696,3406 L579,3490 M696,3406 L633,3490 M696,3406 L685,3490 M696,3406 L737,3490 M696,3406 L791,3490
M830,3406 L527,3490 M830,3406 L579,3490 M830,3406 L633,3490 M830,3406 L685,3490 M830,3406 L737,3490 M830,3406 L791,3490
M527,3540 L605,3660 M527,3540 L711,3660 M579,3540 L605,3660 M579,3540 L711,3660 M633,3540 L605,3660 M633,3540 L711,3660
M685,3540 L605,3660 M685,3540 L711,3660 M737,3540 L605,3660 M737,3540 L711,3660 M791,3540 L605,3660 M791,3540 L711,3660"/>
</g>
<g stroke="#222" stroke-width="2.5">
<ellipse cx="527" cy="3515" rx="24" ry="28" fill="#fff"/><ellipse cx="579" cy="3515" rx="24" ry="28" fill="#7f7f7f"/>
<ellipse cx="633" cy="3515" rx="24" ry="28" fill="#fff"/><ellipse cx="685" cy="3515" rx="24" ry="28" fill="#7f7f7f"/>
<ellipse cx="737" cy="3515" rx="24" ry="28" fill="#fff"/><ellipse cx="791" cy="3515" rx="24" ry="28" fill="#7f7f7f"/>
<ellipse cx="605" cy="3685" rx="24" ry="28" fill="#7f7f7f"/><ellipse cx="711" cy="3685" rx="24" ry="28" fill="#fff"/>
</g>
<g stroke="#111" stroke-width="3" marker-end="url(#as)">
<line x1="605" y1="3730" x2="605" y2="3802"/><line x1="711" y1="3730" x2="711" y2="3802"/>
</g>
<text class="t" x="605" y="3885" font-size="48" text-anchor="middle">1</text>
<text class="t" x="711" y="3885" font-size="48" text-anchor="middle">0</text>
<polyline points="768,3875 1646,3875 1646,3720" fill="none" stroke="#111" stroke-width="4" marker-end="url(#as)"/>

<!-- Verification box -->
<rect x="1180" y="2586" width="950" height="1119" rx="75" fill="none" stroke="#333" stroke-width="4"/>
<text class="t" x="1664" y="2664" font-size="38" font-weight="bold" text-anchor="middle">Verification and analysis of</text>
<text class="t" x="1664" y="2712" font-size="38" font-weight="bold" text-anchor="middle">prediction results</text>
<rect x="1300" y="2768" width="279" height="92" fill="#e4e4e4"/>
<line x1="1300" y1="2806" x2="1370" y2="2806" stroke="#666" stroke-width="3"/>
<text x="1440" y="2840" font-family="Liberation Sans" font-size="46" font-weight="bold" text-anchor="middle" fill="#111" transform="scale(1,1)">HMDD v3.2</text>
<text x="1805" y="2845" font-family="Liberation Sans" font-size="62" text-anchor="middle" fill="#8b7b6b">dbDEMC 2.0</text>
<rect x="1427" y="2901" width="409" height="123" fill="#fffdf0"/>
<text x="1646" y="2955" font-family="Liberation Sans" font-size="58" font-weight="bold" text-anchor="middle" fill="#1f5aa8">miR2Disease</text>
<text x="1646" y="3012" font-family="Liberation Sans" font-size="46" font-weight="bold" text-anchor="middle" fill="#1f5aa8">Base</text>
<line x1="1663" y1="3150" x2="1663" y2="3060" stroke="#111" stroke-width="3" marker-end="url(#as)"/>
<g stroke="#555" stroke-width="3">
<line x1="1469" y1="3187" x2="1832" y2="3231"/><line x1="1469" y1="3291" x2="1832" y2="3231"/>
<line x1="1469" y1="3291" x2="1832" y2="3349"/><line x1="1469" y1="3396" x2="1832" y2="3463"/>
<line x1="1469" y1="3497" x2="1832" y2="3231"/><line x1="1469" y1="3497" x2="1832" y2="3349"/>
<line x1="1469" y1="3497" x2="1832" y2="3463"/>
</g>
<g stroke="#555" stroke-width="2.5" stroke-dasharray="8,6">
<line x1="1469" y1="3187" x2="1832" y2="3349"/><line x1="1469" y1="3187" x2="1832" y2="3463"/>
<line x1="1469" y1="3291" x2="1832" y2="3463"/><line x1="1469" y1="3396" x2="1832" y2="3349"/>
</g>
<g>
<ellipse cx="1469" cy="3187" rx="27" ry="26" class="b"/><ellipse cx="1469" cy="3291" rx="27" ry="26" class="b"/>
<ellipse cx="1469" cy="3396" rx="27" ry="26" class="b"/><ellipse cx="1469" cy="3497" rx="27" ry="26" class="b"/>
<ellipse cx="1832" cy="3231" rx="27" ry="26" class="o"/><ellipse cx="1832" cy="3349" rx="27" ry="26" class="o"/>
<ellipse cx="1832" cy="3463" rx="27" ry="26" class="o"/>
</g>
<line x1="1229" y1="3580" x2="1300" y2="3580" stroke="#111" stroke-width="5"/>
<line x1="1229" y1="3658" x2="1300" y2="3658" stroke="#111" stroke-width="5" stroke-dasharray="10,9"/>
<text class="t" x="1639" y="3590" font-size="34" text-anchor="middle" fill="#222">Known miRNA-disease association</text>
<text class="t" x="1632" y="3668" font-size="34" text-anchor="middle" fill="#222">Potential miRNA-disease association</text>
</svg>
</body></html>
